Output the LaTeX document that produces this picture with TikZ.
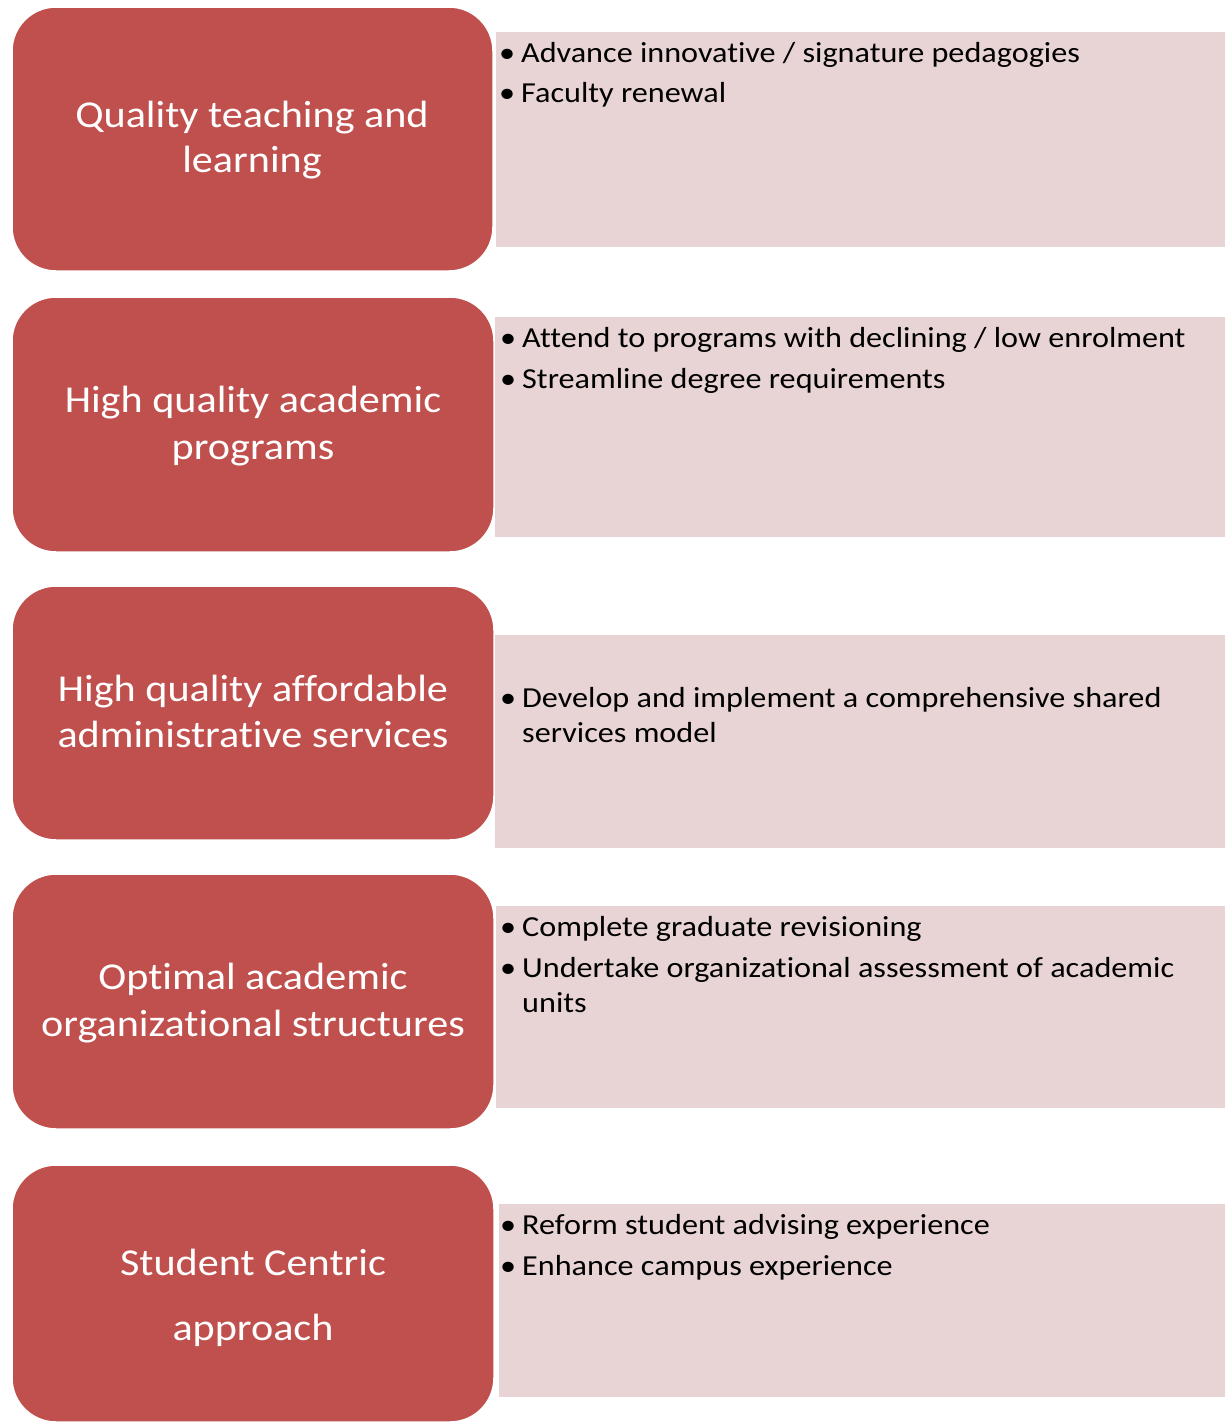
\documentclass[tikz,border=0pt]{standalone}
\usepackage{fontspec}
\setmainfont{Carlito}[Ligatures=NoCommon, FakeStretch=1.11]
\definecolor{goalred}{HTML}{C0504D}
\definecolor{notepink}{HTML}{E8D4D5}
\tikzset{
  goal/.style={draw=white, line width=1.5pt, fill=goalred, rounded corners=44pt,
    inner sep=0pt},
  notes/.style={draw=white, line width=0.8pt, fill=notepink, inner sep=0pt},
  title/.style={anchor=base, inner sep=0pt, text=white,
    font=\fontsize{38}{45}\selectfont},
  item/.style={anchor=base west, inner sep=0pt, text=black,
    font=\fontsize{29}{35}\selectfont},
}
\newcommand{\bul}{\makebox[22pt][l]{\textbullet}}
\newcommand{\cont}{\hspace*{22pt}}
\begin{document}
\begin{tikzpicture}[x=1pt,y=-1pt]
\useasboundingbox (0,0) rectangle (1225,1422);
\clip (0,0) rectangle (1225,1422);

% goal boxes on the left
\node[goal, minimum width=481pt, minimum height=264pt] (g1) at (252.5,139) {};
\node[goal, minimum width=482pt, minimum height=255pt] (g2) at (253,424.5) {};
\node[goal, minimum width=482pt, minimum height=254pt] (g3) at (253,713) {};
\node[goal, minimum width=482pt, minimum height=255pt] (g4) at (253,1001.5) {};
\node[goal, minimum width=482pt, minimum height=257pt] (g5) at (253,1293.5) {};

% action panels on the right
\node[notes, anchor=north west, minimum width=735pt, minimum height=216pt] (n1) at (495,31) {};
\node[notes, anchor=north west, minimum width=736pt, minimum height=221pt] (n2) at (494,316) {};
\node[notes, anchor=north west, minimum width=736pt, minimum height=214pt] (n3) at (494,634) {};
\node[notes, anchor=north west, minimum width=735pt, minimum height=203pt] (n4) at (495,905) {};
\node[notes, anchor=north west, minimum width=732pt, minimum height=194pt] (n5) at (498,1203) {};

% goal titles
\node[title] (t1a) at (252,127) {Quality teaching and};
\node[title] (t1b) at (252,172) {learning};
\node[title] (t2a) at (253,412) {High quality academic};
\node[title] (t2b) at (253,459) {programs};
\node[title] (t3a) at (253,701) {High quality affordable};
\node[title] (t3b) at (253,747) {administrative services};
\node[title] (t4a) at (253,989) {Optimal academic};
\node[title] (t4b) at (253,1036) {organizational structures};
\node[title] (t5a) at (253,1275) {Student Centric};
\node[title] (t5b) at (253,1340) {approach};

% action items
\node[item] (i1a) at (499,62) {\bul Advance innovative / signature pedagogies};
\node[item] (i1b) at (499,102) {\bul Faculty renewal};
\node[item] (i2a) at (500,347) {\bul Attend to programs with declining / low enrolment};
\node[item] (i2b) at (500,388) {\bul Streamline degree requirements};
\node[item] (i3a) at (500,707) {\bul Develop and implement a comprehensive shared};
\node[item] (i3b) at (500,742) {\cont services model};
\node[item] (i4a) at (500,936) {\bul Complete graduate revisioning};
\node[item] (i4b) at (500,977) {\bul Undertake organizational assessment of academic};
\node[item] (i4c) at (500,1012) {\cont units};
\node[item] (i5a) at (500,1234) {\bul Reform student advising experience};
\node[item] (i5b) at (500,1275) {\bul Enhance campus experience};
\end{tikzpicture}
\end{document}
